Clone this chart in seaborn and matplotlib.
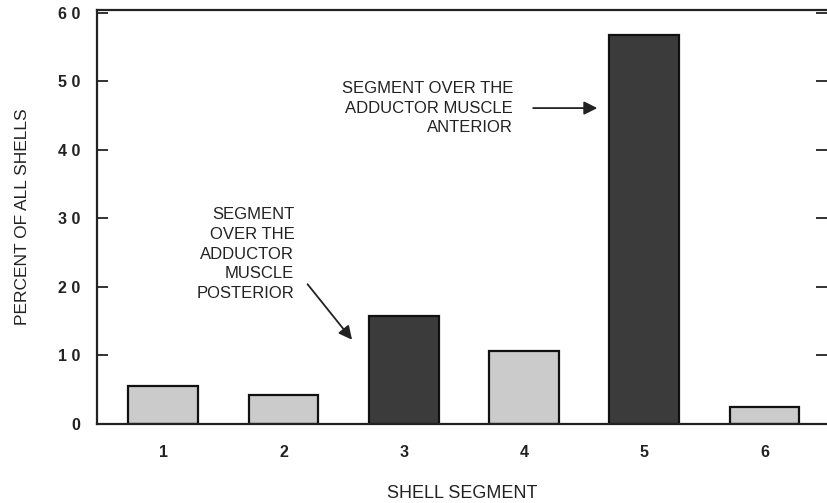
import matplotlib
matplotlib.use("Agg")
import matplotlib.pyplot as plt
import seaborn as sns
import pandas as pd

# Values
segments = ["1", "2", "3", "4", "5", "6"]
percent = [5.6, 4.3, 15.8, 10.7, 56.7, 2.5]
shade = ["light", "light", "dark", "light", "dark", "light"]
y_ticks = [0, 10, 20, 30, 40, 50, 60]

sns.set_theme(style="white")
plt.rcParams["font.family"] = ["Liberation Sans", "DejaVu Sans"]

df = pd.DataFrame({"segment": segments, "percent": percent, "shade": shade})

fig = plt.figure(figsize=(8.27, 5.03), dpi=100)
ax = fig.add_axes([0.117, 0.157, 0.883, 0.823])

sns.barplot(data=df, x="segment", y="percent", hue="shade",
            palette={"light": "#cbcbcb", "dark": "#3b3b3b"},
            dodge=False, width=0.58, edgecolor="#111111", linewidth=1.6,
            legend=False, ax=ax)

ax.set_xlim(-0.553, 5.52)
ax.set_ylim(0, 60.4)
ax.set_yticks(y_ticks)
ax.set_yticklabels([" ".join(str(t)) for t in y_ticks],
                   fontsize=11.5, fontweight="bold", color="#222222")
ax.set_xticks(range(len(segments)))
ax.set_xticklabels(segments, fontsize=11.5, fontweight="bold", color="#222222")

for side in ["left", "bottom", "top"]:
    ax.spines[side].set_color("#222222")
    ax.spines[side].set_linewidth(1.6)
ax.spines["right"].set_visible(False)

ax.tick_params(axis="y", which="both", direction="in", length=8, width=1.3,
               left=True, right=True, pad=12, color="#222222")
ax.tick_params(axis="x", length=0, pad=15)

ax.set_xlabel("SHELL SEGMENT", fontsize=13, color="#222222", labelpad=18)
ax.set_ylabel("PERCENT OF ALL SHELLS", fontsize=12.5, color="#222222",
              labelpad=20)

# annotations
ax.annotate("SEGMENT OVER THE\nADDUCTOR MUSCLE\nANTERIOR",
            xy=(3.61, 46.1), xytext=(2.91, 46.1),
            ha="right", va="center", fontsize=12, color="#222222",
            linespacing=1.4,
            arrowprops=dict(arrowstyle="-|>", color="#222222", lw=1.3,
                            mutation_scale=20, shrinkA=12, shrinkB=0))
ax.text(1.09, 24.8, "SEGMENT\nOVER THE\nADDUCTOR\nMUSCLE\nPOSTERIOR",
        ha="right", va="center", fontsize=12, color="#222222",
        linespacing=1.4)
ax.annotate("", xy=(1.57, 12.3), xytext=(1.20, 20.4),
            arrowprops=dict(arrowstyle="-|>", color="#222222", lw=1.3,
                            mutation_scale=20, shrinkA=0, shrinkB=0))

fig.savefig("out.png", dpi=100)
